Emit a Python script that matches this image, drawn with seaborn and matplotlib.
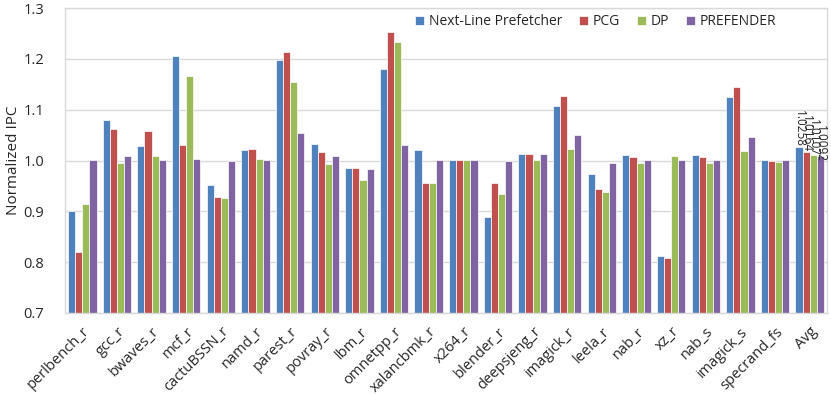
import matplotlib
matplotlib.use('Agg')
import matplotlib.pyplot as plt
import numpy as np
import pandas as pd
import seaborn as sns

# 基准程序名称
benchmarks = ['perlbench_r', 'gcc_r', 'bwaves_r', 'mcf_r', 'cactuBSSN_r', 'namd_r',
              'parest_r', 'povray_r', 'lbm_r', 'omnetpp_r', 'xalancbmk_r', 'x264_r',
              'blender_r', 'deepsjeng_r', 'imagick_r', 'leela_r', 'nab_r', 'xz_r',
              'nab_s', 'imagick_s', 'specrand_fs', 'Avg']
schemes = ['Next-Line Prefetcher', 'PCG', 'DP', 'PREFENDER']

next_line = [0.901, 1.080, 1.029, 1.205, 0.951, 1.020, 1.197, 1.032, 0.985, 1.180, 1.021,
             1.000, 0.889, 1.012, 1.108, 0.973, 1.010, 0.812, 1.010, 1.124, 1.000, 1.0258]
pcg = [0.820, 1.062, 1.059, 1.030, 0.928, 1.022, 1.213, 1.016, 0.985, 1.253, 0.955,
       1.000, 0.955, 1.012, 1.127, 0.943, 1.006, 0.808, 1.007, 1.144, 0.999, 1.0164]
dp = [0.914, 0.995, 1.009, 1.167, 0.926, 1.002, 1.155, 0.993, 0.961, 1.234, 0.955,
      1.000, 0.934, 1.000, 1.023, 0.939, 0.995, 1.008, 0.995, 1.019, 0.998, 1.0107]
prefender = [1.001, 1.009, 1.000, 1.003, 0.999, 1.001, 1.054, 1.008, 0.983, 1.031, 1.000,
             1.000, 0.999, 1.012, 1.051, 0.995, 1.000, 1.000, 1.000, 1.046, 1.000, 1.0092]

colors = ['#4F81BD', '#C0504D', '#9BBB59', '#8064A2']

rows = []
for name, vals in zip(schemes, [next_line, pcg, dp, prefender]):
    for b, v in zip(benchmarks, vals):
        rows.append({'bench': b, 'scheme': name, 'ipc': v})
df = pd.DataFrame(rows)

sns.set_style('white')
plt.rcParams['font.family'] = ['Open Sans', 'DejaVu Sans']

fig = plt.figure(figsize=(8.31, 3.95), dpi=100)
ax = fig.add_axes([65 / 831, 1 - 313 / 395, 762 / 831, 305 / 395])

sns.barplot(data=df, x='bench', y='ipc', hue='scheme', hue_order=schemes,
            order=benchmarks, palette=colors, width=0.82, edgecolor='white',
            linewidth=0.5, saturation=1, ax=ax)

ax.set_ylim(0.7, 1.3)
ax.set_xlim(-0.5, len(benchmarks) - 0.5)
ax.set_yticks(np.arange(0.7, 1.31, 0.1))
ax.set_yticklabels([f'{t:.1f}' for t in np.arange(0.7, 1.31, 0.1)], fontsize=10.5)
ax.yaxis.grid(True, color='#D9D9D9', linewidth=1)
ax.set_axisbelow(True)
for s in ax.spines.values():
    s.set_color('#D9D9D9')
    s.set_linewidth(1)
ax.tick_params(axis='y', length=0, pad=15)
ax.tick_params(axis='x', length=0, pad=8)
ax.set_xticks(range(len(benchmarks)))
ax.set_xticklabels(benchmarks, rotation=45, ha='right', rotation_mode='anchor', fontsize=10.5)
ax.set_xlabel('')
ax.set_ylabel('Normalized IPC', fontsize=11, labelpad=2)

# 平均值标签
n = len(schemes)
bw = 0.82 / n
avg_idx = len(benchmarks) - 1
shift = [0.0, 0.0, -0.003, -0.013]
for i, vals in enumerate([next_line, pcg, dp, prefender]):
    xpos = avg_idx - 0.41 + bw * (i + 0.5)
    ax.text(xpos, vals[-1] + shift[i], f'{vals[-1]:.4f}', rotation=-90,
            ha='center', va='bottom', fontsize=8.5)

ax.legend(loc='upper right', bbox_to_anchor=(0.95, 1.02), ncol=4, frameon=False,
          fontsize=10, handlelength=0.65, handleheight=0.65, columnspacing=1.2,
          handletextpad=0.35)

plt.savefig('out.png', dpi=100)
